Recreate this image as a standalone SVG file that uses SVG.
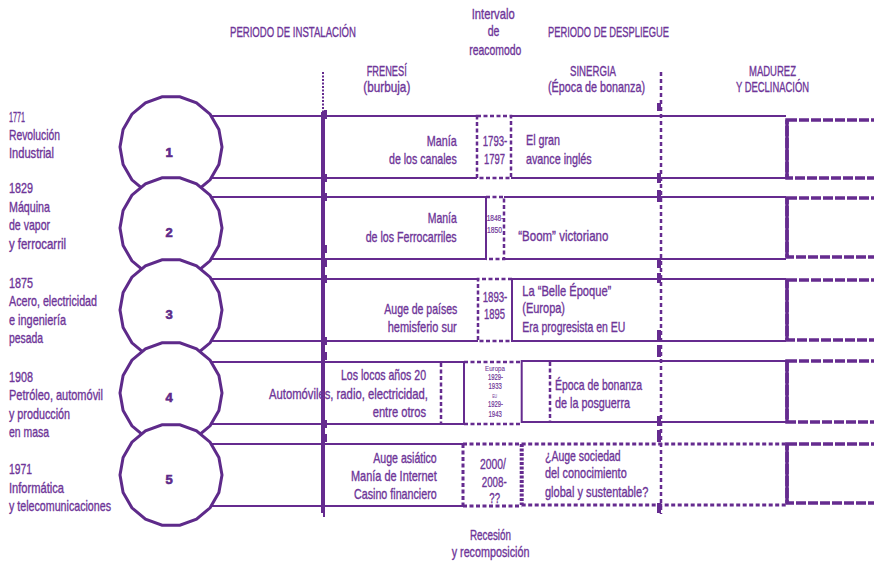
<svg xmlns="http://www.w3.org/2000/svg" xmlns:xlink="http://www.w3.org/1999/xlink" width="874" height="564" viewBox="0 0 874 564">
<style>
text{font-family:"Liberation Sans",Arial,sans-serif;fill:#6e3598;font-size:14.5px;stroke:#6e3598;stroke-width:0.35}
.s{font-size:9px;stroke-width:0.2}
.xs{font-size:7px;stroke-width:0.1}
.num{font-weight:bold;font-size:13px;text-anchor:middle;fill:#5e2a8a;stroke:#5e2a8a;stroke-width:0.6}
.ln{stroke:#652b8f;stroke-width:2;fill:none}
.dash{stroke:#652b8f;stroke-width:2.5;fill:none;stroke-dasharray:4 2.5}
.rb{stroke:#652b8f;stroke-width:3.5;fill:none;stroke-dasharray:10 2}
.circ{fill:#fff;stroke:#5e2a8a;stroke-width:3}
.tick{fill:#652b8f}
</style>
<defs>
<polygon id="poly" points="51,0 47.9,17.4 39.1,32.8 25.5,44.2 8.9,50.2 -8.9,50.2 -25.5,44.2 -39.1,32.8 -47.9,17.4 -51,0 -47.9,-17.4 -39.1,-32.8 -25.5,-44.2 -8.9,-50.2 8.9,-50.2 25.5,-44.2 39.1,-32.8 47.9,-17.4"/>
</defs>
<rect width="874" height="564" fill="#fff"/>

<g id="headers">
<text x="230" y="37" textLength="126" lengthAdjust="spacingAndGlyphs">PERIODO DE INSTALACIÓN</text>
<text x="471.7" y="19" textLength="43" lengthAdjust="spacingAndGlyphs">Intervalo</text>
<text x="487.7" y="36" textLength="11.7" lengthAdjust="spacingAndGlyphs">de</text>
<text x="469.3" y="55" textLength="52" lengthAdjust="spacingAndGlyphs">reacomodo</text>
<text x="548" y="37" textLength="121" lengthAdjust="spacingAndGlyphs">PERIODO DE DESPLIEGUE</text>
<text x="366.7" y="76" textLength="40" lengthAdjust="spacingAndGlyphs">FRENESÍ</text>
<text x="363.3" y="92" textLength="47" lengthAdjust="spacingAndGlyphs">(burbuja)</text>
<text x="570" y="76" textLength="46" lengthAdjust="spacingAndGlyphs">SINERGIA</text>
<text x="548" y="92" textLength="97" lengthAdjust="spacingAndGlyphs">(Época de bonanza)</text>
<text x="749" y="76" textLength="47" lengthAdjust="spacingAndGlyphs">MADUREZ</text>
<text x="736" y="92" textLength="73" lengthAdjust="spacingAndGlyphs">Y DECLINACIÓN</text>
</g>

<g id="connectors">
<path class="ln" d="M205,116H477M205,178H477M511,116H786M511,178H786"/>
<rect class="dash" x="477" y="116" width="34" height="62"/>
<path class="ln" d="M205,197H486V259H205M504,197H786M504,259H786"/>
<path class="dash" d="M486,197H504V259H486"/>
<path class="ln" d="M205,279H478M205,341H478M786,279H512V341H786"/>
<path class="dash" d="M512,279H478V341H512"/>
<path class="ln" d="M205,362H464V424H205"/>
<path class="dash" d="M441,363V423M464,362H520M464,424H520"/>
<path class="ln" d="M786,361H521.7V422H786"/>
<path class="dash" d="M550,362V421"/>
<path class="ln" d="M205,444H463M205,506H463"/>
<path class="dash" d="M463,444V506M463,444H521.7M463,506H521.7M521.7,444H786M521.7,505H786" style="stroke-width:3"/>
<path class="dash" d="M521.7,444V505" style="stroke-width:4;stroke-dasharray:3 1.5"/>
<rect class="rb" x="787" y="120" width="100" height="58"/>
<rect class="rb" x="787" y="198" width="100" height="59"/>
<rect class="rb" x="787" y="280" width="100" height="60"/>
<rect class="rb" x="787" y="361" width="100" height="61"/>
<rect class="rb" x="787" y="444" width="100" height="59"/>
<path class="ln" d="M787,120V178M787,198V257M787,280V340M787,361V422M787,444V503" style="stroke-width:3.5"/>
<path class="ln" d="M323,72V113" style="stroke-dasharray:2 1.5"/>
<path class="ln" d="M323,112V513" style="stroke-width:4"/>
<path class="ln" d="M324,512V517"/>
<path class="dash" d="M661,72V514" style="stroke-dasharray:4 3"/>
<g class="tick">
<rect x="324" y="110" width="3" height="9"/><rect x="324" y="174" width="3" height="8"/><rect x="324" y="193" width="3" height="8"/>
<rect x="324" y="245" width="3" height="8"/><rect x="324" y="259" width="3" height="8"/><rect x="324" y="275" width="3" height="8"/>
<rect x="324" y="337" width="3" height="8"/><rect x="324" y="352" width="3" height="8"/><rect x="324" y="420" width="3" height="8"/>
<rect x="324" y="434" width="3" height="8"/>
<rect x="657" y="103" width="4" height="8"/><rect x="657" y="173" width="4" height="10"/><rect x="657" y="190" width="4" height="12"/>
<rect x="657" y="258" width="4" height="10"/><rect x="657" y="273" width="4" height="10"/><rect x="657" y="330" width="4" height="10"/>
<rect x="657" y="345" width="4" height="12"/><rect x="657" y="416" width="4" height="10"/><rect x="657" y="430" width="4" height="12"/>
<rect x="657" y="503" width="4" height="10"/>
</g>
</g>

<g id="rev1">
<use xlink:href="#poly" href="#poly" class="circ" transform="translate(171,147)"/>
<text class="num" x="169" y="157">1</text>
<text x="9" y="121.5" textLength="16" lengthAdjust="spacingAndGlyphs">1771</text>
<text x="9" y="139.5" textLength="51" lengthAdjust="spacingAndGlyphs">Revolución</text>
<text x="9" y="158" textLength="45" lengthAdjust="spacingAndGlyphs">Industrial</text>
</g>
<g id="rev2">
<use xlink:href="#poly" href="#poly" class="circ" transform="translate(171,228)"/>
<text class="num" x="169" y="237">2</text>
<text x="9" y="193" textLength="24" lengthAdjust="spacingAndGlyphs">1829</text>
<text x="9" y="211.5" textLength="41" lengthAdjust="spacingAndGlyphs">Máquina</text>
<text x="9" y="230" textLength="41" lengthAdjust="spacingAndGlyphs">de vapor</text>
<text x="9" y="249" textLength="57" lengthAdjust="spacingAndGlyphs">y ferrocarril</text>
</g>
<g id="rev3">
<use xlink:href="#poly" href="#poly" class="circ" transform="translate(171,310)"/>
<text class="num" x="169" y="319">3</text>
<text x="9" y="288" textLength="24" lengthAdjust="spacingAndGlyphs">1875</text>
<text x="9" y="306" textLength="88" lengthAdjust="spacingAndGlyphs">Acero, electricidad</text>
<text x="9" y="324.5" textLength="57" lengthAdjust="spacingAndGlyphs">e ingeniería</text>
<text x="9" y="343" textLength="34" lengthAdjust="spacingAndGlyphs">pesada</text>
</g>
<g id="rev4">
<use xlink:href="#poly" href="#poly" class="circ" transform="translate(171,393)"/>
<text class="num" x="169" y="402">4</text>
<text x="9" y="381.5" textLength="24" lengthAdjust="spacingAndGlyphs">1908</text>
<text x="9" y="400" textLength="94" lengthAdjust="spacingAndGlyphs">Petróleo, automóvil</text>
<text x="9" y="418.5" textLength="61" lengthAdjust="spacingAndGlyphs">y producción</text>
<text x="9" y="437" textLength="40" lengthAdjust="spacingAndGlyphs">en masa</text>
</g>
<g id="rev5">
<use xlink:href="#poly" href="#poly" class="circ" transform="translate(171,475)"/>
<text class="num" x="169" y="484">5</text>
<text x="9" y="474" textLength="23" lengthAdjust="spacingAndGlyphs">1971</text>
<text x="9" y="492.5" textLength="55" lengthAdjust="spacingAndGlyphs">Informática</text>
<text x="9" y="511" textLength="102" lengthAdjust="spacingAndGlyphs">y telecomunicaciones</text>
</g>

<g id="row1">
<text x="426.7" y="146" textLength="30" lengthAdjust="spacingAndGlyphs">Manía</text>
<text x="389" y="164" textLength="67.7" lengthAdjust="spacingAndGlyphs">de los canales</text>
<text x="482.7" y="146" textLength="24.6" lengthAdjust="spacingAndGlyphs">1793-</text>
<text x="484" y="164" textLength="21" lengthAdjust="spacingAndGlyphs">1797</text>
<text x="526" y="145" textLength="34" lengthAdjust="spacingAndGlyphs">El gran</text>
<text x="526" y="163.5" textLength="65.7" lengthAdjust="spacingAndGlyphs">avance inglés</text>
</g>
<g id="row2">
<text x="427.7" y="223.3" textLength="29" lengthAdjust="spacingAndGlyphs">Manía</text>
<text x="365.7" y="241.7" textLength="91" lengthAdjust="spacingAndGlyphs">de los Ferrocarriles</text>
<text class="s" x="486.7" y="220.7" textLength="16.7" lengthAdjust="spacingAndGlyphs">1848-</text>
<text class="s" x="487" y="232.7" textLength="15" lengthAdjust="spacingAndGlyphs">1850</text>
<text x="518.3" y="240.7" textLength="90" lengthAdjust="spacingAndGlyphs">“Boom” victoriano</text>
</g>
<g id="row3">
<text x="384.3" y="314.3" textLength="73" lengthAdjust="spacingAndGlyphs">Auge de países</text>
<text x="387.7" y="332.3" textLength="69" lengthAdjust="spacingAndGlyphs">hemisferio sur</text>
<text x="482.7" y="302.3" textLength="24.6" lengthAdjust="spacingAndGlyphs">1893-</text>
<text x="484" y="319.3" textLength="21" lengthAdjust="spacingAndGlyphs">1895</text>
<text x="522.3" y="295.7" textLength="89" lengthAdjust="spacingAndGlyphs">La “Belle Époque”</text>
<text x="522.3" y="313" textLength="42.7" lengthAdjust="spacingAndGlyphs">(Europa)</text>
<text x="522.3" y="332.3" textLength="103" lengthAdjust="spacingAndGlyphs">Era progresista en EU</text>
</g>
<g id="row4">
<text x="341" y="380" textLength="85" lengthAdjust="spacingAndGlyphs">Los locos años 20</text>
<text x="269" y="399.3" textLength="159" lengthAdjust="spacingAndGlyphs">Automóviles, radio, electricidad,</text>
<text x="372.7" y="416.7" textLength="53.3" lengthAdjust="spacingAndGlyphs">entre otros</text>
<text class="xs" x="485" y="371" textLength="20" lengthAdjust="spacingAndGlyphs">Europa</text>
<text class="s" x="488" y="380" textLength="15" lengthAdjust="spacingAndGlyphs">1929-</text>
<text class="s" x="488.5" y="389" textLength="13.3" lengthAdjust="spacingAndGlyphs">1933</text>
<text x="492.2" y="397.7" textLength="5" lengthAdjust="spacingAndGlyphs" style="font-size:5.5px;stroke-width:0">EU</text>
<text class="s" x="488" y="407.3" textLength="15" lengthAdjust="spacingAndGlyphs">1929-</text>
<text class="s" x="488.5" y="416.7" textLength="13.3" lengthAdjust="spacingAndGlyphs">1943</text>
<text x="555" y="390" textLength="87" lengthAdjust="spacingAndGlyphs">Época de bonanza</text>
<text x="555" y="407.7" textLength="75" lengthAdjust="spacingAndGlyphs">de la posguerra</text>
</g>
<g id="row5">
<text x="373.3" y="462.7" textLength="63.4" lengthAdjust="spacingAndGlyphs">Auge asiático</text>
<text x="351" y="481" textLength="85.7" lengthAdjust="spacingAndGlyphs">Manía de Internet</text>
<text x="354" y="499.3" textLength="82.7" lengthAdjust="spacingAndGlyphs">Casino financiero</text>
<text x="480" y="469" textLength="26" lengthAdjust="spacingAndGlyphs">2000/</text>
<text x="481.7" y="486.7" textLength="25" lengthAdjust="spacingAndGlyphs">2008-</text>
<text x="489.3" y="503.3" textLength="10.7" lengthAdjust="spacingAndGlyphs">??</text>
<text x="545" y="460.7" textLength="75.7" lengthAdjust="spacingAndGlyphs">¿Auge sociedad</text>
<text x="545" y="478.3" textLength="81.7" lengthAdjust="spacingAndGlyphs">del conocimiento</text>
<text x="545" y="496.7" textLength="103.3" lengthAdjust="spacingAndGlyphs">global y sustentable?</text>
</g>
<g id="footer">
<text x="470" y="540" textLength="41" lengthAdjust="spacingAndGlyphs">Recesión</text>
<text x="451.7" y="557" textLength="77.7" lengthAdjust="spacingAndGlyphs">y recomposición</text>
</g>
</svg>
